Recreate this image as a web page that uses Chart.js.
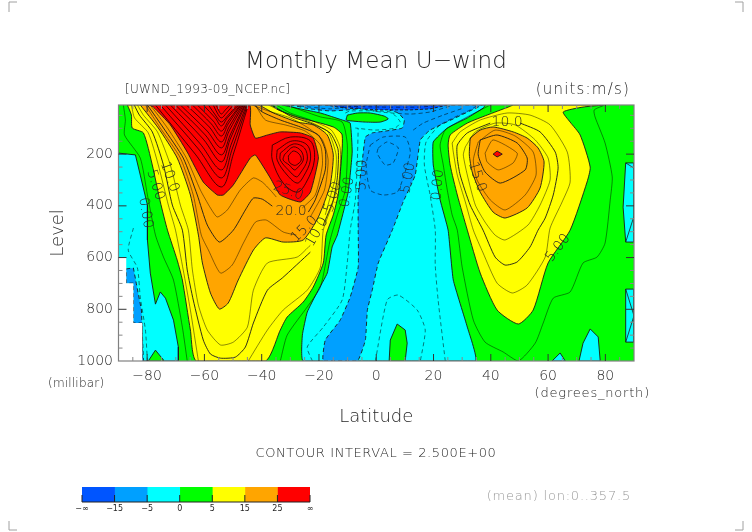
<!DOCTYPE html>
<html>
<head>
<meta charset="utf-8">
<title>Monthly Mean U-wind</title>
<script src="https://cdn.jsdelivr.net/npm/chart.js@4/dist/chart.umd.js"></script>
<style>
  html, body { margin: 0; padding: 0; background: #fff; }
  canvas { position: absolute; left: 0; }
</style>
</head>
<body>
<canvas id="plot" width="752" height="532" style="top:0"></canvas>
<canvas id="colorbar" width="752" height="40" style="top:480px"></canvas>
<script>
// axis ticks
const latTicks = [-80, -60, -40, -20, 0, 20, 40, 60, 80];
const levelTicks = [200, 400, 600, 800, 1000];
const colorbarLabels = ['−∞', '−15', '−5', '0', '5', '15', '25', '∞'];
const colorbarColors = ['#0055ff', '#00a0ff', '#00ffff', '#00ff00', '#ffff00', '#ffa500', '#ff0000'];

// filled contour bands, flat lists of latitude, level
const greenBase = [-90,10, 90,10, 90,1000, -90,1000, -90,10];
const cyanLeft = [-90,196, -84.1,203, -82.4,281, -79.9,397, -79.9,532, -78.9,660, -77.1,780, -75.4,733, -73.6,757, -70.8,842, -69.1,946, -69.1,1000, -90,1000];
const greenLeftIsland = [-79.6,1000, -77.1,958, -74.3,996, -74.3,1000];
const blueLeft = [-87.3,644, -84.8,640, -83.8,699, -82,803, -81.3,1000, -81.7,1000, -81.7,853, -84.8,853, -84.8,699, -87.3,699];
const missingBlock = [-90,602, -87.3,602, -87.3,699, -84.8,699, -84.8,853, -81.7,853, -81.7,1000, -90,1000];
const cyanCentral = [-32.8,10, -26.5,25, -19.5,41, -11.9,68, -9.1,80, -8.4,192, -9.8,347, -13.6,513, -15.4,559, -17.1,660, -20.6,733, -24.1,811, -25.8,900, -25.5,1000, 34.6,1000, 31.8,869, 26.9,687, 25.1,494, 22.3,377, 19.9,242, 19.9,153, 24.8,99, 31.8,60, 37.3,22, 38,10];
const greenTongue = [-10.1,49, -6.6,41, -2.1,41, 2.8,53, 4.2,64, 1.4,76, -3.8,76, -8.4,72, -10.5,68];
const blueCentral = [-30,10, -23,25, -16.1,33, -10.1,29, -3.8,22, 3.1,25, 7.7,41, 9.8,68, 9.1,99, 3.1,111, -1.4,118, -3.8,134, -4.9,230, -6.3,358, -6.3,494, -6.3,637, -9.1,753, -12.6,842, -17.8,919, -18.5,1000, -6.6,1000, -3.8,919, -3.1,803, -1.4,726, 0.7,621, 5.6,494, 9.4,385, 13.6,281, 15.4,145, 18.8,107, 27.6,60, 36.3,14, 37,10];
const blueTop = [-17.8,10, -10.8,22, 1.4,29, 11.9,29, 18.8,25, 25.1,10];
const greenBottomIsland = [4.5,1000, 4.9,919, 7.3,857, 10.1,880, 10.8,931, 10.1,1000];
const cyanBottomA = [61.4,1000, 64.2,969, 66,1000];
const cyanBottomB = [70.8,1000, 72.2,931, 74.7,876, 77.5,907, 78.2,1000];
const cyanEdgeA = [87.1,234, 90,234, 90,540, 87.1,540, 86.2,405];
const cyanEdgeB = [87.1,722, 90,722, 90,927, 87.1,927];
const yellowLeft = [-86.9,10, -85.5,49, -85.2,99, -81.3,118, -78.2,242, -75.4,385, -72.9,494, -69.5,610, -67.7,687, -64.9,880, -62.8,1000, -38.7,1000, -33.5,880, -31.1,830, -25.5,772, -22,714, -18.5,621, -17.5,513, -15,435, -13.3,358, -12.6,281, -11.9,126, -15,95, -27.6,56, -34.2,29, -37,10];
const orangeLeft = [-82.4,10, -76.1,99, -69.5,215, -64.9,358, -62.1,513, -60.7,621, -57.9,737, -54.8,799, -51.7,776, -48.2,687, -42.9,571, -38.7,524, -32.5,540, -25.5,532, -20.2,443, -16.1,319, -15,203, -17.1,126, -22,87, -27.6,76, -35.9,41, -41.5,10];
const redLeft = [-79.2,10, -77.8,18, -71.9,87, -66,192, -60.4,308, -55.5,358, -53.4,358, -49.9,319, -44,215, -42.2,203, -37,292, -33.5,358, -26.5,385, -23,347, -20.2,215, -22,138, -26.5,118, -33.5,114, -38,126, -42.2,138, -44,87, -44.3,10];
const yellowRight = [47.8,10, 46.1,18, 38.7,49, 31.8,80, 25.8,126, 25.1,165, 25.8,242, 28.3,358, 31.8,494, 36.3,660, 42.2,803, 49.6,857, 54.8,803, 60,621, 67.7,494, 73.6,308, 74.7,250, 71.2,126, 67.7,76, 65.3,37, 72.2,18, 79.2,10];
const orangeRight = [32.8,138, 32.5,203, 33.5,269, 36.3,347, 40.8,424, 45,447, 52.7,408, 57.2,331, 58.6,230, 56.5,176, 52.7,138, 47.8,114, 40.8,95, 36.3,107];
const redRight = [40.8,200, 42.2,188, 44,200, 42.2,211];

// contour lines, thin
const thinLines = [
  [-88.3,10, -87.6,68, -87.9,126, -82.4,215, -79.9,358, -77.1,513, -74.3,598, -70.8,687, -67.7,869, -66,1000],
  [-33.5,1000, -31.1,900, -24.1,791, -19.5,714, -16.1,532, -13.6,435, -10.8,339, -10.1,165, -11.9,76, -19.5,56, -28.3,22, -31.1,10],
  [-85.5,10, -84.4,60, -79.6,118, -76.1,242, -72.6,397, -70.1,494, -67.4,648, -64.9,803, -62.1,1000],
  [-44.7,1000, -38,880, -32.5,803, -24.1,726, -19.5,637, -18.5,494, -15.4,397, -12.9,296, -12.6,176, -15.7,107, -23,68, -30,41, -34.9,10],
  [-83.4,10, -81.3,49, -76.4,114, -71.9,242, -68.4,397, -65.6,494, -64.2,648, -62.1,784, -59,880, -54.4,938, -49.9,927, -45,869, -42.9,726, -38,621, -27.6,598, -23,552],
  [-17.8,435, -15.4,339, -14.3,292, -14,203, -16.8,114, -23,76, -30,49, -37.7,10],
  [-80.6,10, -75.4,99, -68.4,215, -63.9,358, -61.1,513, -58.6,571, -54.4,660, -50.3,629, -46.4,544, -42.2,463, -38.4,455, -32.5,501, -27.9,513],
  [-23,443, -18.1,339, -16.8,223, -18.8,145, -23.7,99, -30,60, -37.7,33, -43.3,10],
  [-78.9,10, -72.9,99, -66.3,215, -61.4,339, -57.9,408, -55.5,443, -52,416, -47.5,339, -42.9,292, -39.8,308, -37,339, -34.9,366],
  [-25.8,408, -21.3,358, -18.8,242, -19.5,165, -24.8,111, -31.8,87, -38.7,68, -42.2,10],
  [39.8,10, 31.1,60, 24.1,107, 22.3,165, 23.4,242, 24.8,339, 26.5,435, 28.3,494, 30,637, 33.9,842, 38,927, 44.3,965, 49.6,1000, 55.5,931, 58.3,853, 61.8,757, 67.7,733, 72.2,621, 77.1,598, 79.9,544, 81.7,377, 82.4,288, 79.9,157, 76.4,56, 76.1,29, 79.9,10],
  [26.5,157, 29.3,114, 36.3,68, 45.7,41, 53.7,49, 60.7,87, 66.7,192, 67.7,308, 64.9,385, 60.7,486, 59,598, 52.7,706, 47.5,737, 42.2,699, 37.3,582, 33.9,494, 31.1,385, 28.3,281, 26.9,192, 26.5,157],
  [31.1,172, 34.6,114, 41.5,80, 48.5,87, 55.5,145, 60,215, 60.7,300, 57.2,397, 53,474, 45,532, 41.5,513, 38,463, 34.6,397, 31.8,281, 30.4,203, 31.1,172],
  [35.6,153, 41.5,107, 48.5,130, 54.8,192, 55.8,281, 52,358, 45,416, 39.8,377, 35.2,300, 33.9,223, 35.6,153],
  [38,196, 40.8,145, 49.2,196, 47.8,234, 42.6,261, 38.7,230, 38,196]
];

// short contours that cut the cyan boxes on the right edge
const edgeLines = [
  [87.1,234, 90,254],
  [87.1,540, 90,440],
  [87.1,722, 90,825],
  [87.1,927, 90,825]
];

// contour lines, heavy
const heavyLines = [
  [-84.5,10, -82.7,49, -78.2,114, -74.3,242, -71.2,397, -67.7,494, -66,648, -63.9,764, -60.4,919, -57.9,973, -54.4,989, -49.2,985, -45.7,946, -42.9,853, -38,726, -32.8,679, -23,579],
  [-18.5,474, -15,377, -13.6,292, -13.3,184, -16.1,118, -22.3,83, -30,53, -36.3,10],
  [-79.9,10, -74.3,99, -67.4,215, -62.5,358, -59,474, -54.8,540, -49.9,494, -45.7,416, -42.9,370, -39.8,374, -36.3,401],
  [-23.7,424, -21.3,377, -17.8,261, -17.8,184, -20.2,126, -26.5,95, -33.5,68, -39.8,37, -42.6,10],
  [50.3,80, 57.2,114, 62.5,192, 63.5,254, 61.8,358, 59,447, 56.5,494, 53.7,559, 49.2,617, 45,629, 41.5,598, 37.3,494, 32.8,397, 29.3,281, 28.3,215, 28.3,165, 31.8,118, 39.8,80],
  [36.3,145, 42.2,126, 49.2,157, 52.7,215, 52,261, 43.3,312, 38,269, 35.6,203, 36.3,145]
];

// nested contours of the two red jet cores
const coreLines = [
  [-77.1,10, -63.2,200, -54.1,327, -49.9,200, -44.7,10],
  [-75.4,10, -62.1,180, -54.1,292, -50.3,180, -45,10],
  [-73.6,10, -61.4,161, -54.1,261, -50.6,161, -45.3,10],
  [-71.9,10, -60.4,142, -54.1,230, -51,142, -45.7,10],
  [-70.1,10, -59.7,126, -54.1,203, -51,126, -46,10],
  [-68.4,10, -59,111, -54.1,176, -51.4,111, -46.4,10],
  [-66.3,10, -58.3,95, -54.1,153, -51.4,95, -46.8,10],
  [-64.2,10, -57.6,83, -54.1,130, -51.7,83, -47.2,10],
  [-62.5,10, -56.9,72, -54.1,111, -51.7,72, -47.5,10],
  [-60.4,10, -56.2,60, -54.1,91, -52,60, -47.9,10],
  [-58.6,10, -55.9,53, -54.1,76, -52,53, -48.5,10],
  [-56.9,10, -55.5,41, -54.1,60, -52.3,41, -49.9,10],
  [-55.9,10, -55.1,29, -54.1,45, -52.7,29, -51,10],
  [-36.3,165, -30,134, -23,149, -21.6,223, -24.4,308, -27.6,347, -32.5,312, -36.3,223, -36.3,165],
  [-34.6,184, -29.3,149, -24.1,165, -23,223, -25.5,288, -27.6,312, -31.1,281, -34.6,223, -34.6,184],
  [-33.5,196, -29,161, -25.1,176, -24.1,223, -26.5,273, -27.9,288, -30.7,261, -33.5,223, -33.5,196],
  [-32.1,203, -29,172, -26.2,188, -25.5,223, -27.6,254, -28.6,261, -30.4,242, -32.5,223, -32.1,203],
  [-30.7,207, -29,188, -26.9,200, -26.2,223, -27.9,242, -29,242, -30.4,230, -30.7,207]
];

// negative contours, dashed
const dashedLines = [
  [-84.8,486, -86.6,571, -83.4,640, -82.4,753, -80.6,880, -79.9,1000],
  [-22.3,1000, -24.1,946, -18.5,869, -11.9,764, -10.1,617, -9.1,494, -7.3,377, -6.6,223, -6.3,99],
  [24.1,1000, 21.6,764, 20.6,629, 20.6,494, 18.8,358, 16.8,242, 17.4,153, 22.3,87, 32.8,29, 35.6,10],
  [-0.3,1000, 3.8,764, 7.7,745, 14.3,803, 17.1,880, 15.4,1000],
  [-2.1,165, 2.4,134, 10.1,134, 11.9,192, 9.4,292, 7.3,347, 2.4,358, -2.1,339, -3.5,242, -2.1,165],
  [0.7,176, 3.8,153, 7.7,176, 5.9,234, 3.1,242, 0.3,196, 0.7,176],
  [-26.5,14, -16.1,25, -9.1,18, 1.4,37, 11.9,45, 18.8,37, 25.8,14],
  [-10.8,41, -9.1,33, 4.9,37, 8.4,76, 6.6,99, -0.3,107, -7.3,99],
  [12.9,107, 16.4,80, 23.4,49, 30.4,22],
  [-12.6,14, 1.4,18, 15.4,18, 22.3,10]
];

// labels on the contours: text, latitude, level, rotation in degrees
const contourLabels = [
  ['25.0', -30.7, 343, 20],
  ['20.0', -29.7, 420, 0],
  ['15.0', -25.1, 490, -45],
  ['10.0', -20.6, 501, -60],
  ['5.00', -15, 366, -72],
  ['0.00', -10.1, 347, -80],
  ['5.00', -4.9, 281, -88],
  ['10.0', -72.2, 288, 70],
  ['5.00', -77.1, 319, 72],
  ['0.00', -80.6, 428, 80],
  ['0.00', 21.6, 319, -85],
  ['5.00', 11.2, 292, -80],
  ['10.0', 45.7, 76, 0],
  ['15.0', 35.2, 288, 72],
  ['5.00', 63.5, 563, -52]
];

const FONT = '"DejaVu Sans"';
const INK = '#262626';

const toPoints = (flat, close) => {
  const points = [];
  for (let i = 0; i < flat.length; i += 2) {
    points.push({ x: flat[i], y: flat[i + 1] });
  }
  if (close) points.push(points[0]);
  return points;
};

const band = (flat, color, edge, dash, tension) => ({
  data: toPoints(flat, true),
  showLine: true,
  fill: 'shape',
  backgroundColor: color,
  borderColor: edge || 'rgba(0,0,0,0)',
  borderWidth: edge ? 0.9 : 0,
  borderDash: dash || [],
  pointRadius: 0,
  tension: tension || 0,
});

const contour = (flat, color, width, tension, dash) => ({
  data: toPoints(flat, false),
  showLine: true,
  fill: false,
  borderColor: color,
  borderWidth: width,
  borderDash: dash || [],
  pointRadius: 0,
  tension,
});

const EDGE = '#1a1a1a';
const SMOOTH = 0.2;
const datasets = [
  band(greenBase, '#00ff00'),
  band(cyanLeft, '#00ffff', EDGE),
  band(greenLeftIsland, '#00ff00', EDGE),
  band(blueLeft, '#00a0ff', EDGE, [4, 3]),
  band(missingBlock, '#ffffff'),
  band(cyanCentral, '#00ffff', EDGE, null, 0.12),
  band(blueCentral, '#00a0ff', EDGE, [4, 3], 0.12),
  band(blueTop, '#0055ff', EDGE, [3, 2]),
  band(greenTongue, '#00ff00', EDGE, null, SMOOTH),
  band(greenBottomIsland, '#00ff00', EDGE),
  band(cyanBottomA, '#00ffff', EDGE),
  band(cyanBottomB, '#00ffff', EDGE),
  band(cyanEdgeA, '#00ffff', EDGE),
  band(cyanEdgeB, '#00ffff', EDGE),
  band(yellowLeft, '#ffff00', EDGE, null, SMOOTH),
  band(orangeLeft, '#ffa500', EDGE, null, SMOOTH),
  band(redLeft, '#ff0000', EDGE, null, 0.15),
  band(yellowRight, '#ffff00', EDGE, null, SMOOTH),
  band(orangeRight, '#ffa500', EDGE, null, SMOOTH),
  band(redRight, '#ff0000', EDGE),
  ...thinLines.map((l) => contour(l, 'rgba(0,0,0,0.65)', 0.7, SMOOTH)),
  ...edgeLines.map((l) => contour(l, '#1a1a1a', 0.8, 0)),
  ...heavyLines.map((l) => contour(l, '#1a1a1a', 0.9, SMOOTH)),
  ...coreLines.map((l) => contour(l, '#1a0000', 0.8, 0.35)),
  ...dashedLines.map((l) => contour(l, 'rgba(0,0,0,0.75)', 0.7, SMOOTH, [4, 3])),
];
// first table entry lies at the bottom of the picture
datasets.forEach((d, i) => { d.order = datasets.length - i; });

const drawText = (ctx, text, x, y, size, opts = {}) => {
  ctx.save();
  ctx.translate(x, y);
  ctx.rotate(((opts.rotate || 0) * Math.PI) / 180);
  ctx.font = `${opts.weight || 200} ${size}px ${FONT}`;
  ctx.letterSpacing = (opts.spacing || 0) + 'px';
  ctx.fillStyle = opts.color || INK;
  ctx.textAlign = opts.align || 'center';
  ctx.textBaseline = 'middle';
  ctx.fillText(text, 0, 0);
  ctx.restore();
};

const annotations = {
  id: 'annotations',
  afterDatasetsDraw(chart) {
    const { ctx, scales } = chart;
    contourLabels.forEach(([text, lat, level, rotate]) => {
      drawText(ctx, text, scales.x.getPixelForValue(lat), scales.y.getPixelForValue(level), 14, { rotate });
    });
  },
  afterDraw(chart) {
    const { ctx, chartArea: a, scales } = chart;
    ctx.save();
    ctx.strokeStyle = '#808080';
    ctx.lineWidth = 1.2;
    ctx.strokeRect(a.left, a.top, a.right - a.left, a.bottom - a.top);

    // inward ticks on all four sides, minor every 5 degrees and 50 millibar
    for (let lat = -85; lat <= 85; lat += 5) {
      const major = latTicks.includes(lat);
      const len = major ? 7 : 4;
      const x = scales.x.getPixelForValue(lat);
      ctx.strokeStyle = major ? '#333' : '#888';
      ctx.lineWidth = 1;
      ctx.beginPath();
      ctx.moveTo(x, a.bottom); ctx.lineTo(x, a.bottom - len);
      ctx.moveTo(x, a.top); ctx.lineTo(x, a.top + len);
      ctx.stroke();
    }
    for (let level = 50; level < 1000; level += 50) {
      const major = levelTicks.includes(level);
      const len = major ? 8 : 4;
      const y = scales.y.getPixelForValue(level);
      ctx.strokeStyle = major ? '#333' : '#888';
      ctx.lineWidth = 1;
      ctx.beginPath();
      ctx.moveTo(a.left, y); ctx.lineTo(a.left + len, y);
      ctx.moveTo(a.right, y); ctx.lineTo(a.right - len, y);
      ctx.stroke();
    }

    // page corner marks
    ctx.strokeStyle = '#a0a0a0';
    ctx.lineWidth = 1;
    ctx.beginPath();
    ctx.moveTo(9, 12); ctx.lineTo(9, 2); ctx.lineTo(17, 2);
    ctx.moveTo(735, 2); ctx.lineTo(743, 2); ctx.lineTo(743, 12);
    ctx.moveTo(9, 521); ctx.lineTo(9, 530); ctx.lineTo(17, 530);
    ctx.moveTo(735, 530); ctx.lineTo(743, 530); ctx.lineTo(743, 521);
    ctx.stroke();
    ctx.restore();

    drawText(ctx, 'Monthly Mean U−wind', 376, 62, 23, { spacing: 0.1 });
    drawText(ctx, '[UWND_1993-09_NCEP.nc]', 125, 90, 12, { align: 'left', spacing: 0.3 });
    drawText(ctx, '(units:m/s)', 630, 90, 15, { align: 'right', spacing: 1.2 });
    drawText(ctx, '(millibar)', 48, 384, 12, { align: 'left', spacing: 0.2 });
    drawText(ctx, '(degrees_north)', 650, 394, 13, { align: 'right', spacing: 0.8 });
    drawText(ctx, 'CONTOUR INTERVAL = 2.500E+00', 376, 454, 13, { spacing: 0.6 });
    drawText(ctx, '(mean) lon:0..357.5', 631, 497, 13, { align: 'right', color: '#999', spacing: 0.8 });
  },
};

new Chart(document.getElementById('plot').getContext('2d'), {
  type: 'scatter',
  data: { datasets },
  plugins: [annotations],
  options: {
    responsive: false,
    animation: false,
    events: [],
    layout: { padding: { top: 105, right: 118, left: 0, bottom: 0 } },
    plugins: { legend: { display: false }, tooltip: { enabled: false } },
    scales: {
      x: {
        type: 'linear',
        min: -90,
        max: 90,
        grid: { display: false, drawTicks: false },
        border: { display: false },
        afterBuildTicks: (s) => { s.ticks = latTicks.map((value) => ({ value })); },
        afterFit: (s) => { s.height = 171; },
        ticks: {
          autoSkip: false,
          maxRotation: 0,
          padding: 7,
          color: INK,
          font: { family: FONT, weight: '200', size: 14 },
          callback: (v) => String(v).replace('-', '−'),
        },
        title: {
          display: true,
          text: 'Latitude',
          color: INK,
          font: { family: FONT, weight: '200', size: 18 },
          padding: { top: 0, bottom: 104 },
        },
      },
      y: {
        type: 'linear',
        reverse: true,
        min: 10,
        max: 1000,
        grid: { display: false, drawTicks: false },
        border: { display: false },
        afterBuildTicks: (s) => { s.ticks = levelTicks.map((value) => ({ value })); },
        afterFit: (s) => { s.width = 118.5; },
        ticks: {
          autoSkip: false,
          padding: 5.5,
          color: INK,
          font: { family: FONT, weight: '200', size: 14 },
          callback: (v) => String(v),
        },
        title: {
          display: true,
          text: 'Level',
          color: INK,
          font: { family: FONT, weight: '200', size: 18 },
          padding: { top: 48, bottom: 0 },
        },
      },
    },
  },
});

const colorbarTicks = {
  id: 'colorbarTicks',
  afterDraw(chart) {
    const { ctx, chartArea: a, scales } = chart;
    ctx.save();
    ctx.strokeStyle = '#222';
    ctx.lineWidth = 1;
    ctx.beginPath();
    ctx.moveTo(a.left, a.bottom); ctx.lineTo(a.right, a.bottom);
    colorbarLabels.forEach((_, i) => {
      const x = scales.x.getPixelForValue(i);
      ctx.moveTo(x, a.bottom); ctx.lineTo(x, a.bottom - 7);
    });
    ctx.stroke();
    ctx.restore();
  },
};

new Chart(document.getElementById('colorbar').getContext('2d'), {
  type: 'bar',
  data: {
    labels: ['U'],
    datasets: colorbarColors.map((c) => ({
      data: [1],
      backgroundColor: c,
      barPercentage: 1,
      categoryPercentage: 1,
    })),
  },
  plugins: [colorbarTicks],
  options: {
    indexAxis: 'y',
    responsive: false,
    animation: false,
    events: [],
    layout: { padding: { top: 7, left: 82, right: 442, bottom: 0 } },
    plugins: { legend: { display: false }, tooltip: { enabled: false } },
    scales: {
      x: {
        stacked: true,
        min: 0,
        max: 7,
        grid: { display: false, drawTicks: false },
        border: { display: false },
        afterBuildTicks: (s) => { s.ticks = colorbarLabels.map((_, value) => ({ value })); },
        afterFit: (s) => { s.height = 18; },
        ticks: {
          autoSkip: false,
          maxRotation: 0,
          padding: 2,
          color: INK,
          font: { family: FONT, size: 8 },
          callback: (v) => colorbarLabels[v],
        },
      },
      y: { stacked: true, display: false },
    },
  },
});
</script>
</body>
</html>
